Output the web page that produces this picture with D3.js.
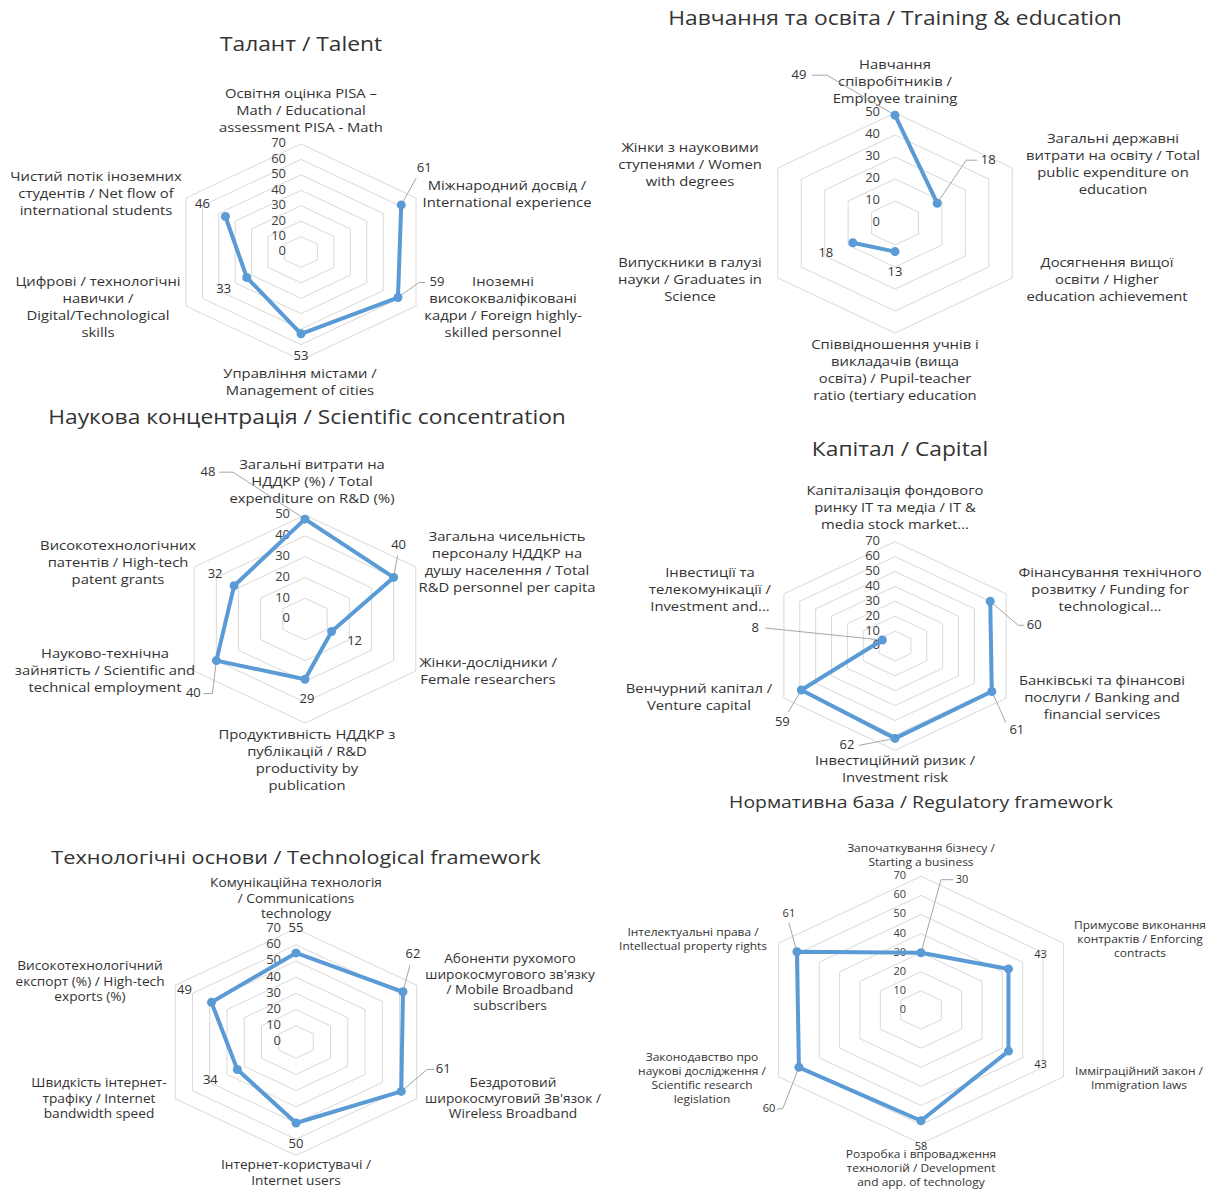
<!DOCTYPE html>
<html>
<head>
<meta charset="utf-8">
<script src="https://d3js.org/d3.v7.min.js"></script>
<style>
  body { margin: 0; background: #fff; }
  text { font-family: "Open Sans", sans-serif; fill: #333333; }
</style>
</head>
<body>
<script>
// ---- data ----
var ticks70 = [0, 10, 20, 30, 40, 50, 60, 70];
var ticks50 = [0, 10, 20, 30, 40, 50];

var talentTitle = "Талант / Talent";
var talentLabels = [
  ["Освітня оцінка PISA –", "Math / Educational", "assessment PISA - Math"],
  ["Міжнародний досвід /", "International experience"],
  ["Іноземні", "висококваліфіковані", "кадри / Foreign highly-", "skilled personnel"],
  ["Управління містами /", "Management of cities"],
  ["Цифрові / технологічні", "навички /", "Digital/Technological", "skills"],
  ["Чистий потік іноземних", "студентів / Net flow of", "international students"]
];
var talentValues = [null, 61, 59, 53, 33, 46];

var trainingTitle = "Навчання та освіта / Training & education";
var trainingLabels = [
  ["Навчання", "співробітників /", "Employee training"],
  ["Загальні державні", "витрати на освіту / Total", "public expenditure on", "education"],
  ["Досягнення вищої", "освіти  / Higher", "education achievement"],
  ["Співвідношення учнів і", "викладачів (вища", "освіта)  / Pupil-teacher", "ratio (tertiary education"],
  ["Випускники в галузі", "науки  / Graduates in", "Science"],
  ["Жінки з науковими", "ступенями  / Women", "with degrees"]
];
var trainingValues = [49, 18, null, 13, 18, null];

var scienceTitle = "Наукова концентрація / Scientific concentration";
var scienceLabels = [
  ["Загальні витрати на", "НДДКР (%) / Total", "expenditure on R&D (%)"],
  ["Загальна чисельність", "персоналу НДДКР на", "душу населення / Total", "R&D personnel per capita"],
  ["Жінки-дослідники /", "Female researchers"],
  ["Продуктивність НДДКР з", "публікацій / R&D", "productivity by", "publication"],
  ["Науково-технічна", "зайнятість / Scientific and", "technical employment"],
  ["Високотехнологічних", "патентів / High-tech", "patent grants"]
];
var scienceValues = [48, 40, 12, 29, 40, 32];

var capitalTitle = "Капітал / Capital";
var capitalLabels = [
  ["Капіталізація фондового", "ринку IT та медіа / IT &", "media stock market..."],
  ["Фінансування технічного", "розвитку / Funding for", "technological..."],
  ["Банківські та фінансові", "послуги / Banking and", "financial services"],
  ["Інвестиційний ризик /", "Investment risk"],
  ["Венчурний капітал /", "Venture capital"],
  ["Інвестиції та", "телекомунікації /", "Investment and..."]
];
var capitalValues = [null, 60, 61, 62, 59, 8];

var techTitle = "Технологічні основи / Technological framework";
var techLabels = [
  ["Комунікаційна технологія", "/ Communications", "technology"],
  ["Абоненти рухомого", "широкосмугового зв'язку", "/ Mobile Broadband", "subscribers"],
  ["Бездротовий", "широкосмуговий Зв'язок /", "Wireless Broadband"],
  ["Інтернет-користувачі /", "Internet users"],
  ["Швидкість інтернет-", "трафіку  / Internet", "bandwidth speed"],
  ["Високотехнологічний", "експорт (%) / High-tech", "exports (%)"]
];
var techValues = [55, 62, 61, 50, 34, 49];

var regTitle = "Нормативна база / Regulatory framework";
var regLabels = [
  ["Започаткування бізнесу /", "Starting a business"],
  ["Примусове виконання", "контрактів / Enforcing", "contracts"],
  ["Імміграційний закон /", "Immigration laws"],
  ["Розробка і впровадження", "технологій / Development", "and app. of technology"],
  ["Законодавство про", "наукові дослідження /", "Scientific research", "legislation"],
  ["Інтелектуальні права /", "Intellectual property rights"]
];
var regValues = [30, 43, 43, 58, 60, 61];

// ---- layout ----
var SX = 1.23;      // horizontal stretch of the page
var TS = 1.14;      // horizontal stretch of text
var lineColor = "#5b9bd5";

var svg = d3.select("body").append("svg")
  .attr("width", 1209).attr("height", 1189);

function stretchText(sel, x, y, s) {
  sel.attr("transform", "translate(" + x + "," + y + ") scale(" + s + ",1)");
}

function drawRadar(c) {
  var g = svg.append("g");
  var r = d3.scaleLinear().domain([0, c.max]).range([0, c.R]);
  var ang = d3.scaleLinear().domain([0, 6]).range([0, 2 * Math.PI]);
  var px = function (i, v) { return c.cx + SX * r(v) * Math.sin(ang(i)); };
  var py = function (i, v) { return c.cy - r(v) * Math.cos(ang(i)); };

  // grid rings
  g.selectAll(".ring").data(c.ticks.slice(1)).join("path")
    .attr("d", function (t) {
      return d3.line()(d3.range(6).map(function (i) { return [px(i, t), py(i, t)]; })) + "Z";
    })
    .attr("fill", "none").attr("stroke", "#d9d9d9").attr("stroke-width", 1);

  // value axis labels
  g.selectAll(".tk").data(c.ticks).join("text")
    .attr("x", c.cx - 15).attr("y", function (t) { return c.cy - r(t); })
    .attr("text-anchor", "end").attr("dominant-baseline", "middle")
    .style("font-size", c.tickSize + "px").style("fill", "#404040")
    .text(function (t) { return t; });

  // title
  var tt = g.append("text").attr("text-anchor", "middle").attr("dominant-baseline", "middle")
    .style("font-size", c.titleSize + "px").text(c.title);
  stretchText(tt, c.titlePos[0], c.titlePos[1], TS);

  // category labels
  c.labels.forEach(function (lines, i) {
    var t = g.append("text").attr("text-anchor", "middle").style("font-size", c.fontSize + "px");
    t.selectAll("tspan").data(lines).join("tspan")
      .attr("x", 0).attr("y", function (d, k) { return k * c.lineH; })
      .attr("dominant-baseline", "middle").text(function (d) { return d; });
    stretchText(t, c.labelPos[i][0], c.labelPos[i][1], TS);
  });

  // series
  var pts = c.values.map(function (v, i) { return { i: i, v: v }; });
  pts.push({ i: 6, v: c.values[0] });
  var line = d3.line()
    .defined(function (d) { return d.v != null; })
    .x(function (d) { return px(d.i, d.v); })
    .y(function (d) { return py(d.i, d.v); });

  // leaders
  pts.slice(0, 6).forEach(function (d) {
    if (d.v == null || !c.leaders[d.i]) return;
    var o = c.offsets[d.i];
    var lx = px(d.i, d.v) + o[0], ly = py(d.i, d.v) + o[1];
    var p = c.leaders[d.i].map(function (q) { return [lx + q[0], ly + q[1]]; });
    p.push([px(d.i, d.v), py(d.i, d.v)]);
    g.append("path").attr("d", d3.line()(p))
      .attr("fill", "none").attr("stroke", "#a6a6a6").attr("stroke-width", 1);
  });

  g.append("path").datum(pts).attr("d", line)
    .attr("fill", "none").attr("stroke", lineColor).attr("stroke-width", 4)
    .attr("stroke-linejoin", "round");

  var valid = pts.slice(0, 6).filter(function (d) { return d.v != null; });
  g.selectAll(".dot").data(valid).join("circle")
    .attr("cx", function (d) { return px(d.i, d.v); })
    .attr("cy", function (d) { return py(d.i, d.v); })
    .attr("r", 4.5).attr("fill", lineColor);

  // data labels
  g.selectAll(".dl").data(valid).join("text")
    .attr("x", function (d) { return px(d.i, d.v) + c.offsets[d.i][0]; })
    .attr("y", function (d) { return py(d.i, d.v) + c.offsets[d.i][1]; })
    .attr("text-anchor", "middle").attr("dominant-baseline", "middle")
    .style("font-size", c.tickSize + "px")
    .text(function (d) { return d.v; });
}

drawRadar({
  title: talentTitle, titlePos: [301, 46], titleSize: 20,
  labels: talentLabels, values: talentValues, ticks: ticks70, max: 70,
  cx: 301, cy: 252, R: 108, fontSize: 13, tickSize: 13, lineH: 17,
  labelPos: [[301, 95], [507, 187], [503, 283], [300, 375], [98, 283], [96, 178]],
  offsets: [[0, 0], [23, -36], [39, -15], [0, 23], [-23, 12], [-23, -12]],
  leaders: [null, [[-8, 9]], [[-12, 0], [-18, 0]], null, null, null]
});

drawRadar({
  title: trainingTitle, titlePos: [895, 20], titleSize: 20,
  labels: trainingLabels, values: trainingValues, ticks: ticks50, max: 50,
  cx: 895, cy: 223, R: 110, fontSize: 13, tickSize: 13, lineH: 17,
  labelPos: [[895, 66], [1113, 140], [1107, 264], [895, 346], [690, 264], [690, 149]],
  offsets: [[-96, -40], [51, -43], [0, 0], [0, 21], [-27, 11], [0, 0]],
  leaders: [[[13, 0], [28, 0]], [[-11, 0], [-22, 0]], null, null, null, null]
});

drawRadar({
  title: scienceTitle, titlePos: [307, 419], titleSize: 20,
  labels: scienceLabels, values: scienceValues, ticks: ticks50, max: 50,
  cx: 305, cy: 619, R: 104, fontSize: 13, tickSize: 13, lineH: 17,
  labelPos: [[312, 466], [507, 538], [488, 664], [307, 736], [105, 655], [118, 547]],
  offsets: [[-97, -47], [5, -32], [23, 10], [2, 20], [-23, 33], [-19, -11]],
  leaders: [[[11, 0], [25, 0]], [[-1, 10]], null, null, [[10, 0], [19, 0]], null]
});

drawRadar({
  title: capitalTitle, titlePos: [900, 451], titleSize: 20,
  labels: capitalLabels, values: capitalValues, ticks: ticks70, max: 70,
  cx: 895, cy: 646, R: 104.3, fontSize: 13, tickSize: 13, lineH: 17,
  labelPos: [[895, 492], [1110, 574], [1102, 682], [895, 762], [699, 690], [710, 574]],
  offsets: [[0, 0], [44, 24], [25, 39], [-48, 7], [-19, 33], [-127, -12]],
  leaders: [null, [[-10, 0], [-16, 0]], [[-11, -8]], [[12, 0]], [[6, -11]], [[10, 0]]]
});

drawRadar({
  title: techTitle, titlePos: [296, 859], titleSize: 19,
  labels: techLabels, values: techValues, ticks: ticks70, max: 70,
  cx: 296, cy: 1042, R: 113.4, fontSize: 12, tickSize: 13, lineH: 15.5,
  labelPos: [[296, 884], [510, 960], [513, 1084], [296, 1166], [99, 1084], [90, 967]],
  offsets: [[0, -24], [10, -37], [42, -22], [0, 22], [-27, 11], [-27, -12]],
  leaders: [null, [[-3, 10]], [[-9, 0], [-16, 0]], null, null, null]
});

drawRadar({
  title: regTitle, titlePos: [921, 803], titleSize: 17,
  labels: regLabels, values: regValues, ticks: ticks70, max: 70,
  cx: 921, cy: 1010, R: 133.7, fontSize: 10.5, tickSize: 11, lineH: 14,
  labelPos: [[921, 849], [1140, 926], [1139, 1072], [921, 1155], [702, 1058], [693, 933]],
  offsets: [[41, -73], [32, -14], [32, 14], [0, 26], [-30, 42], [-8, -38]],
  leaders: [[[-9, 0], [-21, 0]], null, null, null, [[8, 0], [14, -1]], [[0, 9]]]
});
</script>
</body>
</html>
